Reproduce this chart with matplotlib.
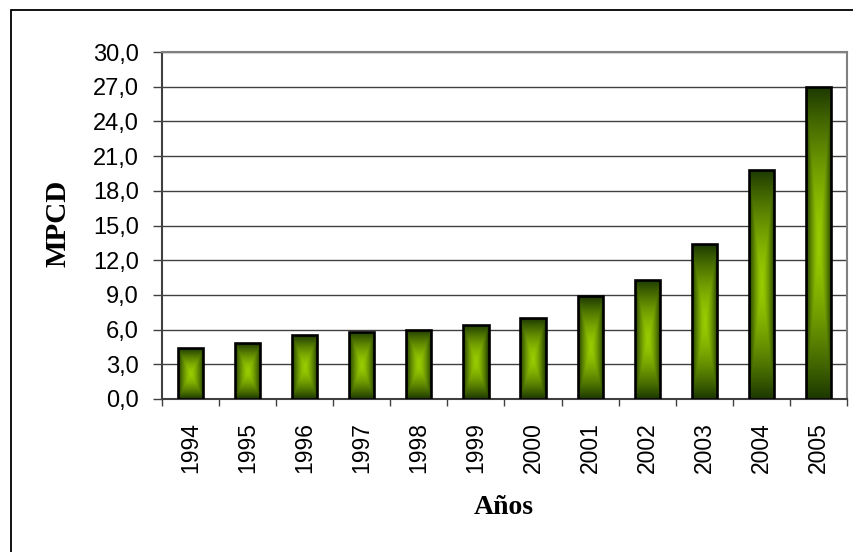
import numpy as np
import matplotlib
matplotlib.use("Agg")
import matplotlib.pyplot as plt
from matplotlib.patches import Rectangle
from matplotlib.colors import to_rgb
from matplotlib.ticker import FuncFormatter, MultipleLocator

anios = ["1994", "1995", "1996", "1997", "1998", "1999",
         "2000", "2001", "2002", "2003", "2004", "2005"]
mpcd = [4.4, 4.8, 5.5, 5.8, 6.0, 6.4, 7.0, 8.9, 10.3, 13.4, 19.8, 27.0]

claro = np.array(to_rgb("#99cc00"))
oscuro = np.array(to_rgb("#1c3800"))

plt.rcParams["font.family"] = ["Liberation Sans", "DejaVu Sans"]

fig = plt.figure(figsize=(8.54, 5.52), dpi=100)
ax = fig.add_axes([162 / 854, 1 - 399 / 552, 685 / 854, 347 / 552])

# marco exterior del grafico
fig.patches.append(Rectangle((11 / 854, -0.1), 1.2, 1 - 10 / 552 + 0.1,
                             transform=fig.transFigure, fill=False,
                             edgecolor="black", linewidth=1.3))

x = np.arange(len(anios))
ancho = 0.44
barras = ax.bar(x, mpcd, width=ancho, facecolor="none", edgecolor="black",
                linewidth=1.9, zorder=3)

# degradado rectangular desde el centro de cada barra
n = 200
u = np.abs(np.linspace(-1, 1, n))
U, V = np.meshgrid(u, u)
t = np.maximum(U, V) ** 1.5
img = claro[None, None, :] * (1 - t[..., None]) + oscuro[None, None, :] * t[..., None]
for xi, val, b in zip(x, mpcd, barras):
    im = ax.imshow(img, extent=[xi - ancho / 2, xi + ancho / 2, 0, val],
                   aspect="auto", interpolation="bilinear", zorder=2)
    im.set_clip_path(b)

ax.set_xlim(-0.5, len(anios) - 0.5)
ax.set_ylim(0, 30)
ax.yaxis.set_major_locator(MultipleLocator(3))
ax.yaxis.set_major_formatter(FuncFormatter(lambda v, p: f"{v:.1f}".replace(".", ",")))
ax.set_xticks(x)
ax.set_xticklabels(anios, rotation=90)
ax.set_xticks(np.arange(-0.5, len(anios)), minor=True)

ax.tick_params(axis="y", length=6.5, width=1, color="#404040", pad=10, labelsize=17)
ax.tick_params(axis="x", which="major", length=0, pad=16.5, labelsize=16.5)
ax.tick_params(axis="x", which="minor", length=5, width=1, color="#404040")

ax.grid(axis="y", color="#404040", linewidth=1)
ax.set_axisbelow(True)

ax.spines["left"].set_color("#404040")
ax.spines["left"].set_linewidth(1.5)
ax.spines["bottom"].set_color("#404040")
ax.spines["bottom"].set_linewidth(1.5)
ax.spines["top"].set_color("#808080")
ax.spines["top"].set_linewidth(1.5)
ax.spines["right"].set_color("#808080")
ax.spines["right"].set_linewidth(1.5)

fig.text(58 / 854, 1 - 223.5 / 552, "MPCD", rotation=90, ha="center", va="center",
         family="Liberation Serif", fontweight="bold", fontsize=21)
fig.text(504 / 854, 1 - 507 / 552, "Años", ha="center", va="center",
         family="Liberation Serif", fontweight="bold", fontsize=20)

fig.savefig("out.png", dpi=100)
